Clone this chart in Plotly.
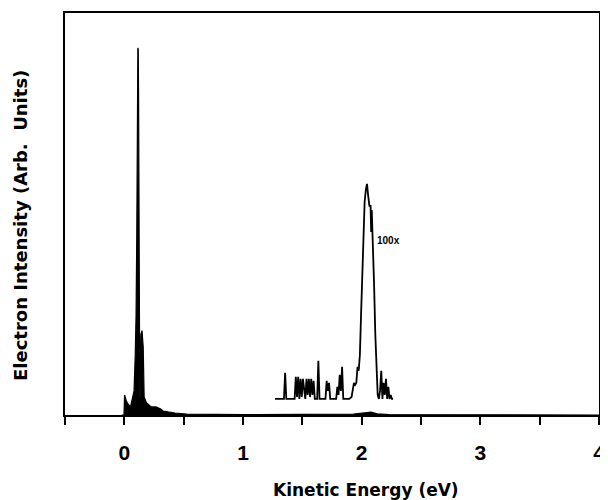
import plotly.graph_objects as go

# Main spectrum (filled)
main_x = [-0.023, -0.003, 0.002, 0.017, 0.037, 0.052, 0.067, 0.082, 0.092, 0.099, 0.105,
          0.110, 0.114, 0.117, 0.120, 0.124, 0.127, 0.130, 0.134, 0.139, 0.149, 0.159,
          0.167, 0.187, 0.207, 0.227, 0.267, 0.307, 0.327, 0.377, 0.427, 0.527, 1.0, 1.93, 2.03,
          2.08, 2.13, 2.23, 4.0]
main_y = [0.0, 0.0, 0.05, 0.035, 0.025, 0.02, 0.04, 0.06, 0.15, 0.25, 0.45,
          0.75, 0.913, 0.91, 0.80, 0.55, 0.25, 0.04, 0.05, 0.20, 0.21, 0.17,
          0.045, 0.03, 0.025, 0.02, 0.02, 0.015, 0.01, 0.007, 0.005, 0.002, 0.001, 0.002, 0.006,
          0.007, 0.003, 0.001, 0.0]

# 100x magnified region (offset baseline)
mag_x = [1.27, 1.345, 1.355, 1.365, 1.435, 1.445, 1.455, 1.465, 1.475, 1.485, 1.495, 1.505,
         1.525, 1.535, 1.545, 1.555, 1.565, 1.575, 1.585, 1.595, 1.605, 1.615, 1.625, 1.635,
         1.645, 1.695, 1.705, 1.715, 1.725, 1.735, 1.785, 1.795, 1.805, 1.815, 1.825, 1.835,
         1.845, 1.895, 1.915, 1.935, 1.945, 1.955, 1.965, 1.975, 1.985, 1.995, 2.005, 2.015,
         2.025, 2.035, 2.045, 2.055, 2.065, 2.075, 2.08, 2.085, 2.095, 2.105, 2.115, 2.125,
         2.135, 2.145, 2.155, 2.165, 2.175, 2.185, 2.195, 2.205, 2.215, 2.225, 2.235, 2.245,
         2.255, 2.265]
mag_y = [0.04, 0.04, 0.105, 0.04, 0.04, 0.095, 0.045, 0.095, 0.04, 0.09, 0.045, 0.09, 0.04,
         0.09, 0.05, 0.09, 0.045, 0.09, 0.05, 0.085, 0.04, 0.04, 0.04, 0.135, 0.04, 0.04,
         0.085, 0.06, 0.08, 0.04, 0.04, 0.07, 0.05, 0.10, 0.06, 0.12, 0.04, 0.04, 0.045,
         0.08, 0.075, 0.08, 0.12, 0.11, 0.15, 0.25, 0.36, 0.46, 0.53, 0.56, 0.575, 0.545,
         0.52, 0.52, 0.455, 0.51, 0.43, 0.32, 0.20, 0.10, 0.05, 0.04, 0.06, 0.11, 0.04,
         0.08, 0.05, 0.09, 0.04, 0.07, 0.04, 0.05, 0.04, 0.04]

tick_vals = [-0.5, 0, 0.5, 1, 1.5, 2, 2.5, 3, 3.5, 4]
tick_text = ["", "0", "", "1", "", "2", "", "3", "", "4"]

TITLE_FONT = "DejaVu Sans"
TICK_FONT = "Liberation Sans"

fig = go.Figure()
fig.add_trace(go.Scatter(x=main_x, y=main_y, mode="lines", fill="tozeroy",
                         line=dict(color="black", width=1.2), fillcolor="black",
                         showlegend=False))
fig.add_trace(go.Scatter(x=mag_x, y=mag_y, mode="lines",
                         line=dict(color="black", width=1.8), showlegend=False))

fig.add_annotation(x=2.225, y=0.433, text="100x", showarrow=False, xanchor="center",
                   font=dict(family=TICK_FONT, size=10, color="black", weight="bold"))

# axis titles (positioned as in the reference)
fig.add_annotation(xref="paper", yref="paper", x=0.5, y=0, xshift=34, yshift=-75,
                   xanchor="center", yanchor="middle", showarrow=False,
                   text="Kinetic Energy (eV)",
                   font=dict(family=TITLE_FONT, size=17, color="black", weight="bold"))
fig.add_annotation(xref="paper", yref="paper", x=0, y=0.5, xshift=-45, yshift=-12,
                   xanchor="center", yanchor="middle", showarrow=False, textangle=-90,
                   text="Electron Intensity (Arb.  Units)",
                   font=dict(family=TITLE_FONT, size=18, color="black", weight="bold"))

fig.update_layout(
    width=600, height=492,
    margin=dict(l=57, r=9, t=5, b=85),
    plot_bgcolor="white", paper_bgcolor="white",
    font=dict(family=TICK_FONT, color="black"),
)
fig.update_xaxes(range=[-0.5, 4], tickvals=tick_vals, ticktext=tick_text,
                 showline=True, mirror=True, linecolor="black", linewidth=2,
                 ticks="outside", ticklen=8, tickwidth=2, tickcolor="black",
                 showgrid=False, zeroline=False, automargin=False,
                 ticklabelstandoff=10,
                 tickfont=dict(size=21, weight="bold"))
fig.update_yaxes(range=[0, 1], showline=True, mirror=True, linecolor="black", linewidth=2,
                 showticklabels=False, ticks="", showgrid=False, zeroline=False,
                 automargin=False)

fig.write_html("out.html")
